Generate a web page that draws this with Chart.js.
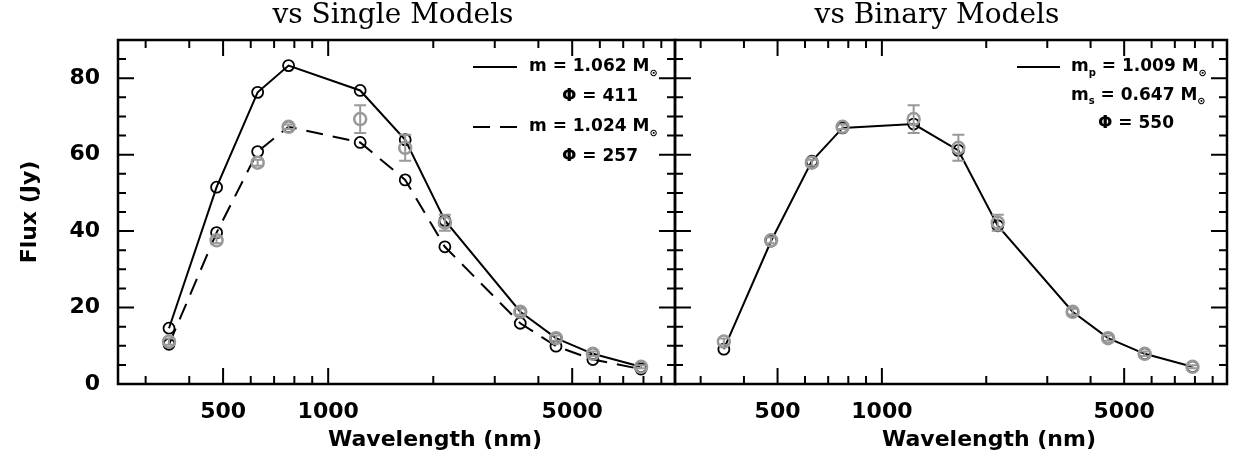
<!DOCTYPE html>
<html>
<head>
<meta charset="utf-8">
<script src="https://cdn.jsdelivr.net/npm/chart.js@4.4.0/dist/chart.umd.min.js"></script>
<style>
  body { margin: 0; background: #fff; }
  #wrap { position: relative; width: 1235px; height: 466px; }
  canvas { position: absolute; top: 0; }
</style>
</head>
<body>
<div id="wrap">
  <canvas id="left" width="680" height="466" style="left:0"></canvas>
  <canvas id="right" width="565" height="466" style="left:670px"></canvas>
</div>
<script>
// photometric bands (nm)
const wavelengths = [350, 479, 628, 770, 1235, 1662, 2159, 3550, 4493, 5731, 7872];
// observed fluxes (Jy) and their errors
const obsFlux = [11.1, 37.6, 57.9, 67.3, 69.3, 61.8, 42.2, 18.9, 12.0, 7.9, 4.5];
const obsErr  = [0.8, 0.8, 0.8, 0.6, 3.6, 3.4, 2.1, 0.8, 0.7, 0.6, 0.4];
// single star models
const singleHeavy = [14.6, 51.5, 76.3, 83.3, 76.8, 63.9, 42.8, 18.9, 12.0, 7.9, 4.5];   // m = 1.062
const singleLight = [10.4, 39.6, 60.8, 67.3, 63.2, 53.4, 35.9, 15.9, 9.9, 6.4, 3.9];    // m = 1.024
// binary model
const binaryFlux = [9.1, 37.4, 58.3, 67.0, 68.0, 61.1, 41.4, 18.9, 12.0, 7.9, 4.5];

// axis ticks
const xMajor = [500, 1000, 5000];
const xMinor = [300, 400, 600, 700, 800, 900, 2000, 3000, 4000, 6000, 7000, 8000, 9000];
const yMajor = [0, 20, 40, 60, 80];
const yMinor = [5, 10, 15, 25, 30, 35, 45, 50, 55, 65, 70, 75, 85];

// legend texts
const legendSingle = [
  { line: 'solid', parts: [['m = 1.062 M'], ['\u2299', 'sub']] },
  { line: null, parts: [['\u03A6 = 411']] },
  { line: 'dash', parts: [['m = 1.024 M'], ['\u2299', 'sub']] },
  { line: null, parts: [['\u03A6 = 257']] }
];
const legendBinary = [
  { line: 'solid', parts: [['m'], ['p', 'sub'], [' = 1.009 M'], ['\u2299', 'sub']] },
  { line: null, parts: [['m'], ['s', 'sub'], [' = 0.647 M'], ['\u2299', 'sub']] },
  { line: null, parts: [['\u03A6 = 550']] }
];

const FONT = 'DejaVu Sans';
const DASH = [17, 10];

function pts(ys) {
  return wavelengths.map((w, i) => ({ x: w, y: ys[i] }));
}

function drawParts(ctx, parts, x, y) {
  for (const [txt, kind] of parts) {
    if (kind === 'sub') {
      ctx.font = 'bold 10px ' + FONT;
      ctx.fillText(txt, x, y + 6);
    } else {
      ctx.font = 'bold 17px ' + FONT;
      ctx.fillText(txt, x, y);
    }
    x += ctx.measureText(txt).width;
  }
}

const framePlugin = {
  id: 'frame',
  afterDatasetsDraw(chart, args, o) {
    const { ctx, chartArea: a, scales: { x, y } } = chart;
    ctx.save();

    // error bars on the observations
    ctx.strokeStyle = '#999';
    ctx.lineWidth = 2;
    ctx.beginPath();
    wavelengths.forEach((w, i) => {
      const px = x.getPixelForValue(w);
      const t = y.getPixelForValue(obsFlux[i] + obsErr[i]);
      const b = y.getPixelForValue(obsFlux[i] - obsErr[i]);
      ctx.moveTo(px, t); ctx.lineTo(px, b);
      ctx.moveTo(px - 6, t); ctx.lineTo(px + 6, t);
      ctx.moveTo(px - 6, b); ctx.lineTo(px + 6, b);
    });
    ctx.stroke();

    // box
    ctx.strokeStyle = '#000';
    ctx.lineWidth = 2.5;
    ctx.strokeRect(a.left, a.top, a.right - a.left, a.bottom - a.top);

    // inward ticks on all sides
    ctx.lineWidth = 2;
    ctx.beginPath();
    const xt = (vals, len) => vals.forEach(v => {
      const px = x.getPixelForValue(v);
      ctx.moveTo(px, a.bottom); ctx.lineTo(px, a.bottom - len);
      ctx.moveTo(px, a.top); ctx.lineTo(px, a.top + len);
    });
    const yt = (vals, len) => vals.forEach(v => {
      const py = y.getPixelForValue(v);
      ctx.moveTo(a.left, py); ctx.lineTo(a.left + len, py);
      ctx.moveTo(a.right, py); ctx.lineTo(a.right - len, py);
    });
    xt(xMajor, 16); xt(xMinor, 8);
    yt(yMajor, 16); yt(yMinor, 8);
    ctx.stroke();

    // titles
    ctx.fillStyle = '#000';
    ctx.textAlign = 'center';
    ctx.textBaseline = 'middle';
    ctx.font = '28px "DejaVu Serif"';
    ctx.fillText(o.title, o.titleX, 16);
    ctx.font = 'bold 22px ' + FONT;
    ctx.fillText('Wavelength (nm)', o.xTitleX, 440);

    // legend
    ctx.textAlign = 'left';
    o.legend.forEach((row, i) => {
      const ry = a.top + 27 + i * o.rowGap;
      if (row.line) {
        ctx.lineWidth = 2;
        ctx.setLineDash(row.line === 'dash' ? DASH : []);
        ctx.beginPath();
        ctx.moveTo(a.right - o.lineStart, ry);
        ctx.lineTo(a.right - o.lineEnd, ry);
        ctx.stroke();
        ctx.setLineDash([]);
      }
      const isPhi = row.parts[0][0].startsWith('\u03A6');
      drawParts(ctx, row.parts, a.right - (isPhi ? o.phiX : o.textX), ry);
    });
    ctx.restore();
  }
};

function makeChart(id, datasets, cfg) {
  return new Chart(document.getElementById(id), {
    type: 'scatter',
    data: { datasets },
    options: {
      responsive: false,
      animation: false,
      events: [],
      layout: { padding: cfg.padding, autoPadding: false },
      plugins: {
        legend: { display: false },
        tooltip: { enabled: false },
        frame: cfg.frame
      },
      scales: {
        x: {
          type: 'logarithmic',
          min: cfg.xMin,
          max: cfg.xMax,
          afterBuildTicks: s => { s.ticks = xMajor.map(v => ({ value: v })); },
          afterFit: s => {
            s.height = 82;
            s.paddingLeft = 0;
            s.paddingRight = 0;
          },
          ticks: {
            callback: v => String(v),
            autoSkip: false, maxRotation: 0, padding: 15,
            color: '#000', font: { family: FONT, size: 22, weight: 'bold' }
          },
          grid: { display: false, drawTicks: false },
          border: { display: false }
        },
        y: {
          display: cfg.showY,
          min: 0,
          max: 90,
          afterBuildTicks: s => { s.ticks = yMajor.map(v => ({ value: v })); },
          afterFit: s => {
            s.width = cfg.showY ? 118 : 0;
            s.paddingTop = 0;
            s.paddingBottom = 0;
          },
          ticks: {
            padding: 18,
            color: '#000', font: { family: FONT, size: 22, weight: 'bold' }
          },
          title: {
            display: true, text: 'Flux (Jy)', color: '#000',
            font: { family: FONT, size: 22, weight: 'bold' },
            padding: { top: 17, bottom: 0 }
          },
          grid: { display: false, drawTicks: false },
          border: { display: false }
        }
      }
    },
    plugins: [framePlugin]
  });
}

const obsSet = {
  data: pts(obsFlux), showLine: false,
  pointRadius: 6, pointBorderWidth: 2.5,
  pointBorderColor: '#999', pointBackgroundColor: 'rgba(0,0,0,0)'
};
function modelSet(ys, dash) {
  return {
    data: pts(ys), showLine: true, tension: 0,
    borderColor: '#000', borderWidth: 2, borderDash: dash,
    pointRadius: 5.5, pointBorderWidth: 1.8,
    pointBorderColor: '#000', pointBackgroundColor: 'rgba(0,0,0,0)'
  };
}

makeChart('left', [obsSet, modelSet(singleHeavy, []), modelSet(singleLight, DASH)], {
  padding: { top: 40, right: 5, left: 0, bottom: 0 },
  xMin: 250, xMax: 9850, showY: true,
  frame: {
    title: 'vs Single Models', titleX: 393, xTitleX: 435,
    legend: legendSingle, rowGap: 30,
    lineStart: 202, lineEnd: 158, textX: 146, phiX: 113
  }
});

makeChart('right', [Object.assign({}, obsSet, { data: pts(obsFlux) }), modelSet(binaryFlux, [])], {
  padding: { top: 40, right: 8, left: 5, bottom: 0 },
  xMin: 253, xMax: 9900, showY: false,
  frame: {
    title: 'vs Binary Models', titleX: 937 - 670, xTitleX: 989 - 670,
    legend: legendBinary, rowGap: 28.5,
    lineStart: 210, lineEnd: 167, textX: 156, phiX: 129
  }
});
</script>
</body>
</html>
